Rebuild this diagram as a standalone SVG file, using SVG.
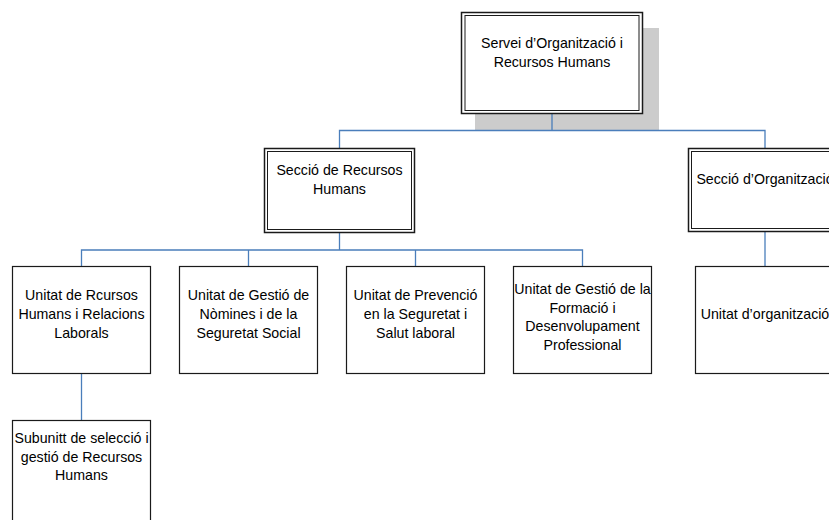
<svg xmlns="http://www.w3.org/2000/svg" width="829" height="520" viewBox="0 0 829 520">
  <style>
    .box { fill: #ffffff; stroke: #1a1a1a; stroke-width: 1.2; }
    .outer { fill: #ffffff; stroke: #1a1a1a; stroke-width: 1.5; }
    .inner { fill: none; stroke: #1a1a1a; stroke-width: 1; }
    .shadow { fill: #cccccc; stroke: none; }
    .link { fill: none; stroke: #4a7ebb; stroke-width: 1.3; }
    text { font-family: "Liberation Sans", Arial, sans-serif; font-size: 14.2px; fill: #000000; text-anchor: middle; }
  </style>
  <rect width="829" height="520" fill="#ffffff"/>

  <!-- shadow behind the head unit -->
  <rect class="shadow" x="475" y="28" width="184" height="102"/>

  <!-- connectors -->
  <g id="connectors">
    <path class="link" d="M552 113 V130.5 M339.5 148 V130.5 H765 V148"/>
    <path class="link" d="M339.5 232 V250 M81.5 267 V250 H582.5 V267 M248.5 250 V267 M415.5 250 V267"/>
    <path class="link" d="M765 231 V267"/>
    <path class="link" d="M81.5 373 V420"/>
  </g>

  <g id="servei">
    <rect class="outer" x="461.5" y="12.5" width="181" height="101"/>
    <rect class="inner" x="465" y="15.5" width="174" height="95"/>
    <text x="552" y="48">Servei d’Organització i</text>
    <text x="552" y="67">Recursos Humans</text>
  </g>

  <g id="seccio-rh">
    <rect class="outer" x="264.5" y="148.5" width="150" height="84"/>
    <rect class="inner" x="267.5" y="151.5" width="144" height="78"/>
    <text x="339.5" y="175">Secció de Recursos</text>
    <text x="339.5" y="194">Humans</text>
  </g>

  <g id="seccio-org">
    <rect class="outer" x="688.5" y="148.5" width="151" height="83"/>
    <rect class="inner" x="691.5" y="151.5" width="145" height="77"/>
    <text x="765" y="183.5">Secció d’Organització</text>
  </g>

  <g id="unitat-rrhh">
    <rect class="box" x="12.5" y="266.5" width="138" height="107"/>
    <text x="81.5" y="300">Unitat de Rcursos</text>
    <text x="81.5" y="318.8">Humans i Relacions</text>
    <text x="81.5" y="337.6">Laborals</text>
  </g>

  <g id="unitat-nomines">
    <rect class="box" x="179.5" y="266.5" width="138" height="107"/>
    <text x="248.5" y="300">Unitat de Gestió de</text>
    <text x="248.5" y="318.8">Nòmines i de la</text>
    <text x="248.5" y="337.6">Seguretat Social</text>
  </g>

  <g id="unitat-prevencio">
    <rect class="box" x="346.5" y="266.5" width="138" height="107"/>
    <text x="415.5" y="300">Unitat de Prevenció</text>
    <text x="415.5" y="318.8">en la Seguretat i</text>
    <text x="415.5" y="337.6">Salut laboral</text>
  </g>

  <g id="unitat-formacio">
    <rect class="box" x="513.5" y="266.5" width="138" height="107"/>
    <text x="582.5" y="294">Unitat de Gestió de la</text>
    <text x="582.5" y="312.5">Formació i</text>
    <text x="582.5" y="331">Desenvolupament</text>
    <text x="582.5" y="349.5">Professional</text>
  </g>

  <g id="unitat-organitzacio">
    <rect class="box" x="695.5" y="266.5" width="140" height="107"/>
    <text x="765" y="318.5">Unitat d’organització</text>
  </g>

  <g id="subunitat-seleccio">
    <rect class="box" x="12.5" y="420.5" width="138" height="110"/>
    <text x="81.5" y="443.3">Subunitt de selecció i</text>
    <text x="81.5" y="461.7">gestió de Recursos</text>
    <text x="81.5" y="480">Humans</text>
  </g>
</svg>
